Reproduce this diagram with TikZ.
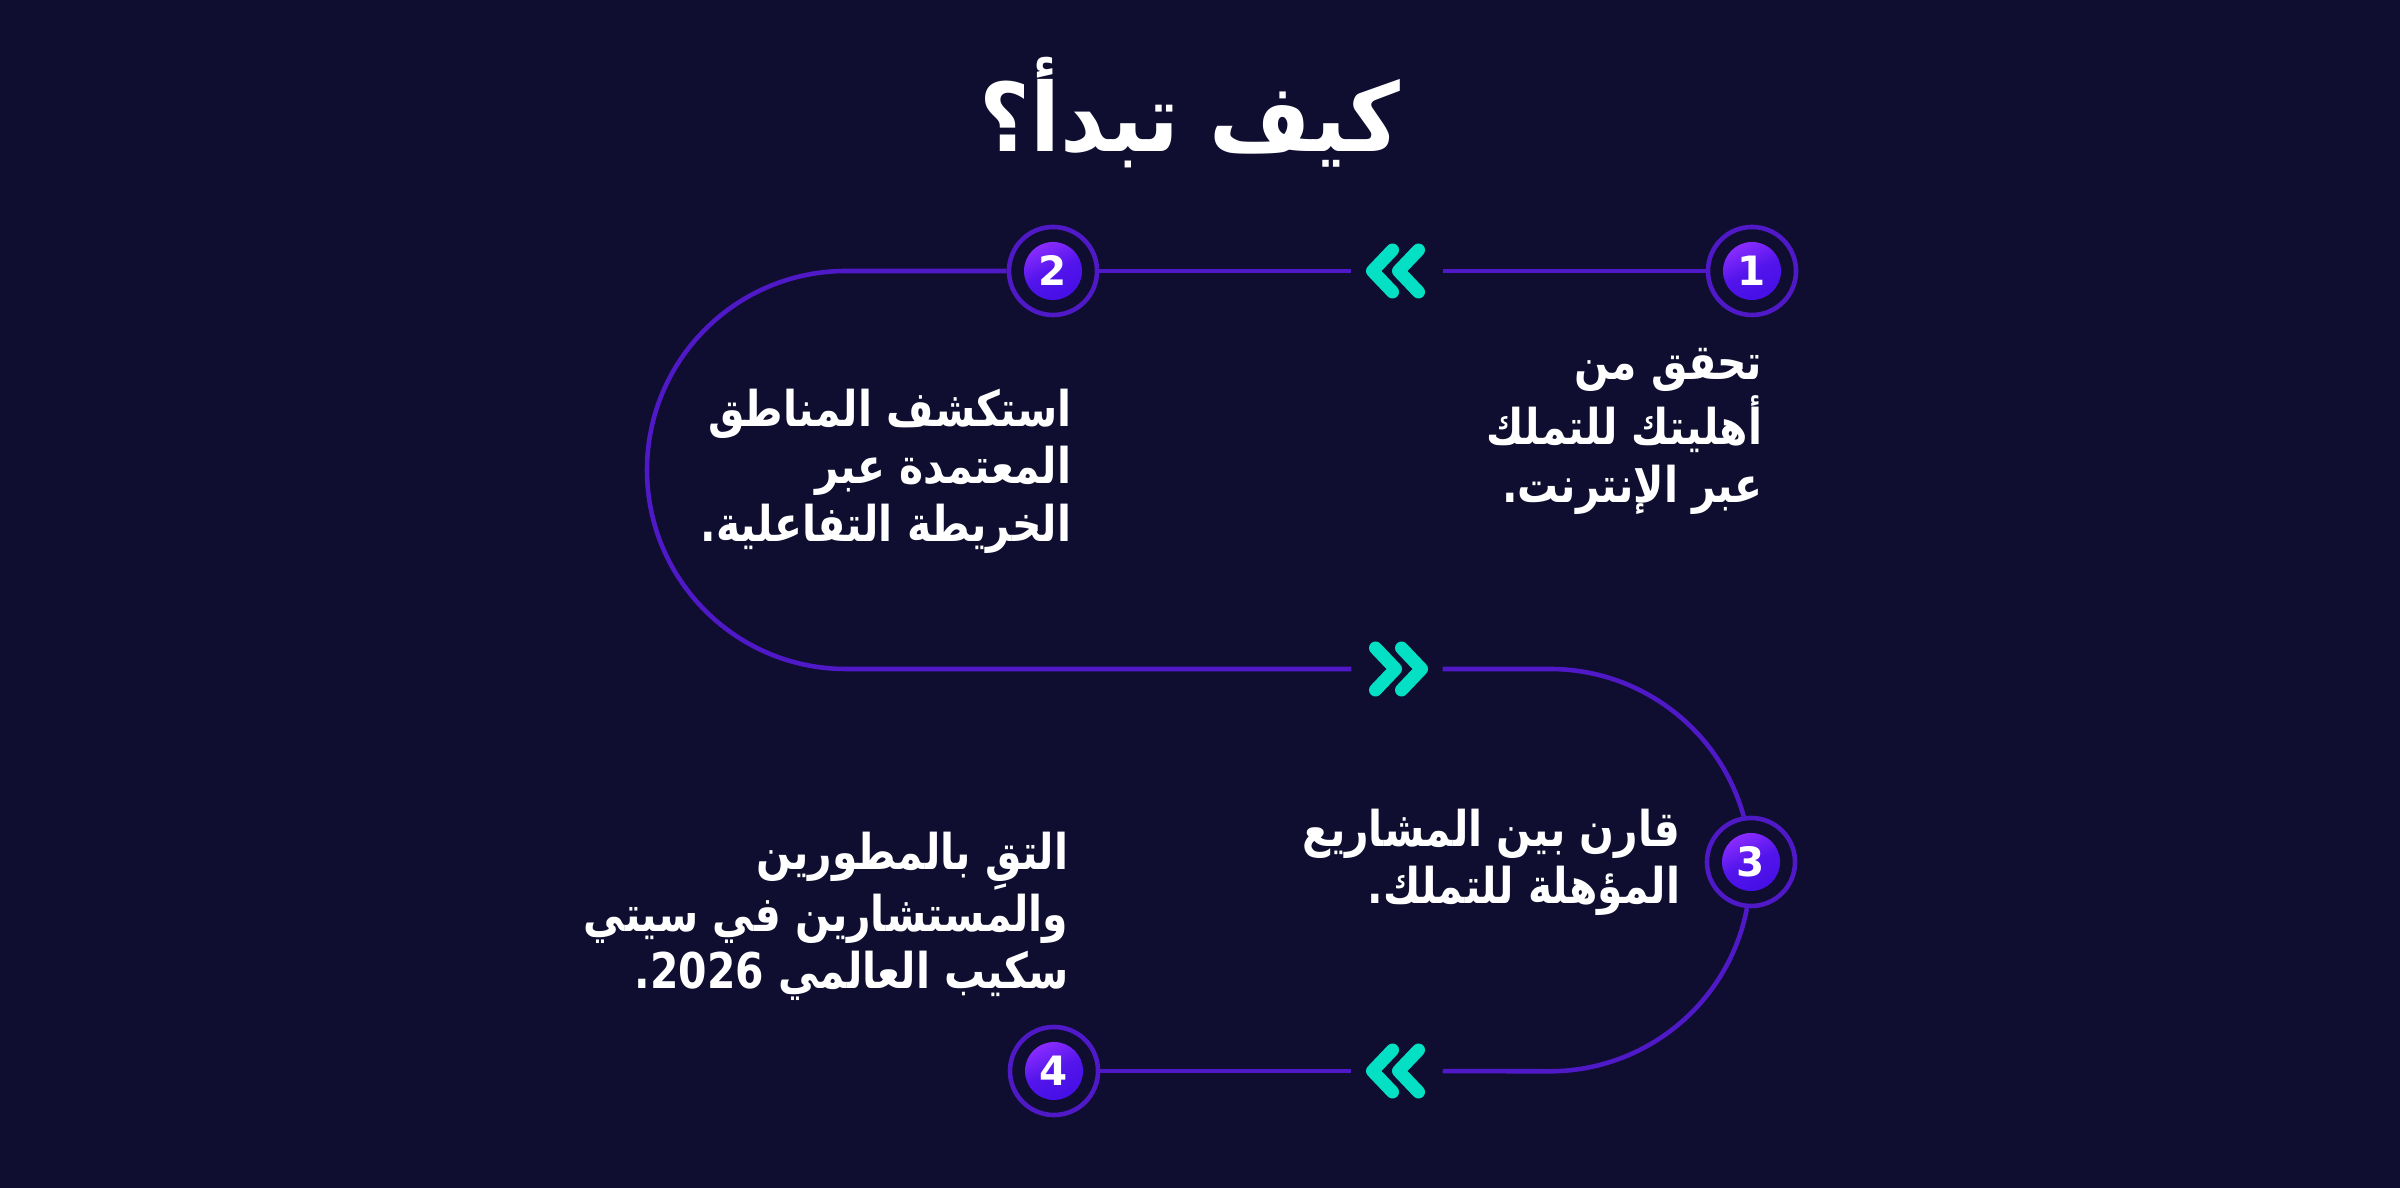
\documentclass[tikz,border=0pt]{standalone}
\usepackage{fontspec}
\TeXXeTstate=1
\newfontfamily\arabicfont[Script=Arabic, FakeStretch=0.83]{DejaVu Sans}
\newfontfamily\titlefont[Script=Arabic, FakeStretch=0.92]{DejaVu Sans}
\newfontfamily\numfont{DejaVu Sans}

\definecolor{pagebg}{HTML}{0F0E30}
\definecolor{trailviolet}{HTML}{5019C8}
\definecolor{discA}{HTML}{8A2CFF}
\definecolor{discB}{HTML}{450FE6}
\definecolor{chevteal}{HTML}{03E0C4}

\begin{document}
\begin{tikzpicture}[x=0.01cm, y=0.01cm,
	every node/.style={text=white},
	trail/.style={draw=trailviolet, line width=1.3pt},
	ring/.style={circle, draw=trailviolet, line width=1.3pt, minimum size=0.88cm, inner sep=0},
	disc/.style={circle, minimum size=0.58cm, inner sep=0, top color=discA, bottom color=discB, middle color=discB!80!discA, shading angle=25, font=\numfont\bfseries\fontsize{11.5pt}{12pt}\selectfont},
	gap/.style={minimum width=0.9cm, minimum height=0.6cm, inner sep=0},
	chevron/.style={draw=chevteal, line width=3.7pt, line cap=round, line join=round},
	steptext/.style={align=right, anchor=north east, inner sep=0, font=\arabicfont\bfseries\fontsize{14pt}{16.4pt}\selectfont}]
	\fill[pagebg] (0,0) rectangle (2400,1188);

	\node[anchor=base, font=\titlefont\bfseries\fontsize{27pt}{30pt}\selectfont] (title) at (1190,1036) {\beginR كيف تبدأ؟\endR};

	\foreach \i/\x/\y in {1/1752/917, 2/1053/917, 3/1751/326, 4/1054/117} {
		\node[ring] (c\i) at (\x,\y) {};
		\node[disc] (d\i) at (\x,\y) {\i};
	}
	\node[gap] (ch1) at (1397,917) {};
	\node[gap] (ch2) at (1397,519) {};
	\node[gap] (ch3) at (1397,117) {};
	\coordinate (bendL) at (846,917);
	\coordinate (bendR) at (1550,519);

	\draw[trail] (c1) -- (ch1);
	\draw[trail] (ch1) -- (c2);
	\draw[trail] (c2) -- (bendL) arc[start angle=90, end angle=270, radius=199] -- (ch2);
	\draw[trail] (ch2) -- (bendR) arc[start angle=90, end angle=15.5, radius=201];
	\draw[trail] (c3.265.5) arc[start angle=-10.85, end angle=-90, radius=201] -- (ch3);
	\draw[trail] (ch3) -- (c4);

	% chevrons, -1 points left and 1 points right
	\foreach \n/\d in {ch1/-1, ch2/1, ch3/-1}
		\foreach \o in {24.5,-1.5}
			\draw[chevron] ([shift={({\d*(\o-20)},21)}]\n.center) -- ++({\d*20},-21) -- ++({-(\d)*20},-21);

	\node[steptext] (t1) at (1763,840) {\beginR تحقق من\endR\\\beginR أهليتك للتملك\endR\\\beginR عبر الإنترنت.\endR};
	\node[steptext] (t2) at (1072,800) {\beginR استكشف المناطق\endR\\\beginR المعتمدة عبر\endR\\\beginR الخريطة التفاعلية.\endR};
	\node[steptext] (t3) at (1681,380) {\beginR قارن بين المشاريع\endR\\\beginR المؤهلة للتملك.\endR};
	\node[steptext] (t4) at (1069,357) {\beginR التقِ بالمطورين\endR\\\beginR والمستشارين في سيتي\endR\\\beginR سكيب العالمي \beginL 2026\endL.\endR};
\end{tikzpicture}
\end{document}
